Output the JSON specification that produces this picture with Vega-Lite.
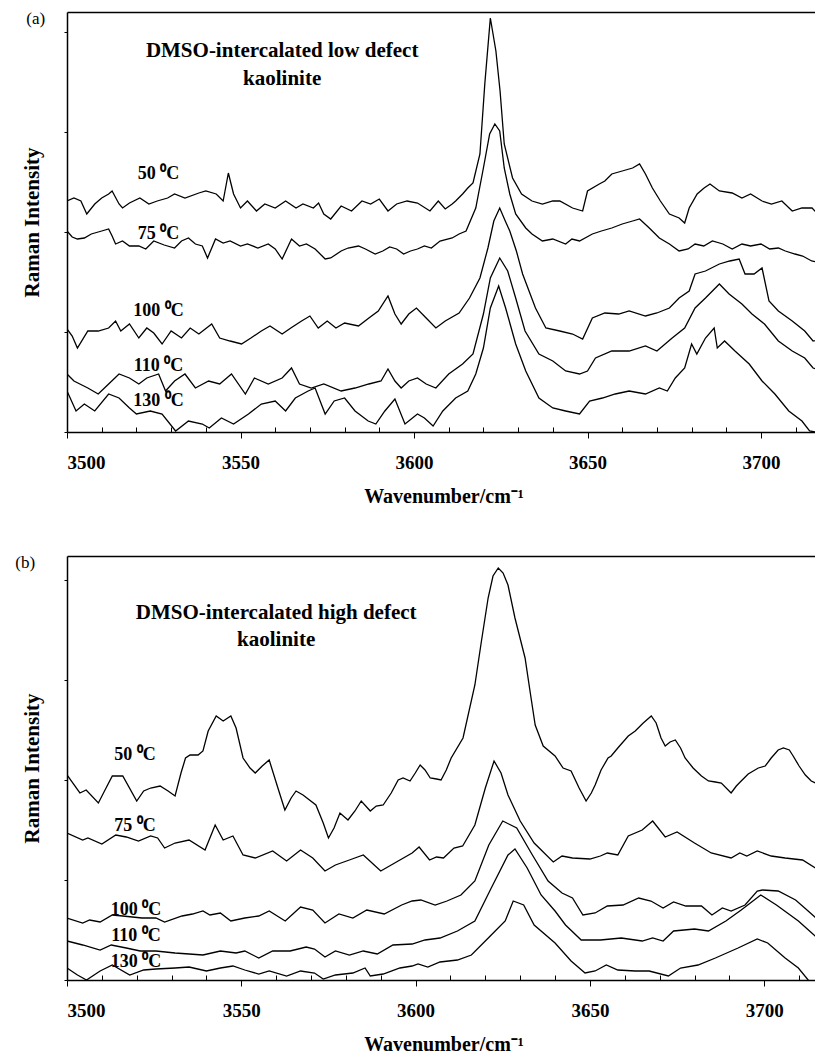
{
  "$schema": "https://vega.github.io/schema/vega-lite/v6.json",
  "padding": {"left": 15, "top": 10, "right": 0, "bottom": 0},
  "background": "white",
  "config": {
    "view": {"stroke": null},
    "font": "Liberation Serif",
    "axis": {"grid": false, "domainColor": "black", "domainWidth": 1.5, "tickColor": "black", "labelColor": "black", "titleColor": "black", "labelFont": "Liberation Serif", "titleFont": "Liberation Serif", "labelFontWeight": "bold", "titleFontWeight": "bold"},
    "text": {"font": "Liberation Serif", "color": "black"}
  },
  "spacing": 47,
  "datasets": {
    "a": [
      {"s":"50","wn":3500,"v":231},{"s":"50","wn":3502,"v":234},{"s":"50","wn":3504,"v":231},{"s":"50","wn":3505.7,"v":218},{"s":"50","wn":3508,"v":228},{"s":"50","wn":3510,"v":234},{"s":"50","wn":3512,"v":238},{"s":"50","wn":3513,"v":241},{"s":"50","wn":3515,"v":228},{"s":"50","wn":3516,"v":224},{"s":"50","wn":3518,"v":229},{"s":"50","wn":3521,"v":234},{"s":"50","wn":3523.6,"v":228},{"s":"50","wn":3526,"v":231},{"s":"50","wn":3529,"v":234},{"s":"50","wn":3531,"v":238},{"s":"50","wn":3534,"v":234},{"s":"50","wn":3538,"v":239},{"s":"50","wn":3540,"v":241},{"s":"50","wn":3543,"v":238},{"s":"50","wn":3545,"v":231},{"s":"50","wn":3546.5,"v":259},{"s":"50","wn":3548,"v":238},{"s":"50","wn":3550,"v":224},{"s":"50","wn":3552,"v":231},{"s":"50","wn":3554.6,"v":221},{"s":"50","wn":3557,"v":228},{"s":"50","wn":3560,"v":224},{"s":"50","wn":3563,"v":231},{"s":"50","wn":3566,"v":224},{"s":"50","wn":3568,"v":228},{"s":"50","wn":3571,"v":224},{"s":"50","wn":3572.5,"v":229},{"s":"50","wn":3574,"v":218},{"s":"50","wn":3576,"v":213},{"s":"50","wn":3579,"v":226},{"s":"50","wn":3582,"v":221},{"s":"50","wn":3585,"v":231},{"s":"50","wn":3587.5,"v":228},{"s":"50","wn":3590,"v":233},{"s":"50","wn":3592.5,"v":221},{"s":"50","wn":3595,"v":228},{"s":"50","wn":3598,"v":231},{"s":"50","wn":3601,"v":229},{"s":"50","wn":3604.6,"v":221},{"s":"50","wn":3607,"v":231},{"s":"50","wn":3609,"v":223},{"s":"50","wn":3611,"v":228},{"s":"50","wn":3612,"v":231},{"s":"50","wn":3614,"v":238},{"s":"50","wn":3615.5,"v":244},{"s":"50","wn":3617,"v":249},{"s":"50","wn":3619,"v":278},{"s":"50","wn":3620.4,"v":348},{"s":"50","wn":3622,"v":414},{"s":"50","wn":3623.6,"v":381},{"s":"50","wn":3624.8,"v":341},{"s":"50","wn":3626,"v":288},{"s":"50","wn":3628.4,"v":254},{"s":"50","wn":3631,"v":238},{"s":"50","wn":3634,"v":231},{"s":"50","wn":3637,"v":228},{"s":"50","wn":3640,"v":231},{"s":"50","wn":3642,"v":231},{"s":"50","wn":3645.7,"v":224},{"s":"50","wn":3648.6,"v":221},{"s":"50","wn":3650,"v":241},{"s":"50","wn":3653.4,"v":248},{"s":"50","wn":3655,"v":251},{"s":"50","wn":3657,"v":258},{"s":"50","wn":3660,"v":261},{"s":"50","wn":3663,"v":264},{"s":"50","wn":3665,"v":268},{"s":"50","wn":3666.7,"v":258},{"s":"50","wn":3668.7,"v":244},{"s":"50","wn":3671,"v":231},{"s":"50","wn":3673.6,"v":218},{"s":"50","wn":3676.4,"v":214},{"s":"50","wn":3678,"v":209},{"s":"50","wn":3679.3,"v":224},{"s":"50","wn":3681.6,"v":238},{"s":"50","wn":3683.6,"v":244},{"s":"50","wn":3685.3,"v":248},{"s":"50","wn":3688,"v":241},{"s":"50","wn":3691.7,"v":239},{"s":"50","wn":3694.5,"v":234},{"s":"50","wn":3697,"v":238},{"s":"50","wn":3700.3,"v":231},{"s":"50","wn":3703,"v":228},{"s":"50","wn":3706,"v":231},{"s":"50","wn":3709,"v":221},{"s":"50","wn":3711.8,"v":224},{"s":"50","wn":3714.7,"v":224},{"s":"50","wn":3717.5,"v":214},
      {"s":"75","wn":3500,"v":201},{"s":"75","wn":3501.5,"v":195},{"s":"75","wn":3503,"v":193},{"s":"75","wn":3505,"v":194},{"s":"75","wn":3507,"v":198},{"s":"75","wn":3510,"v":201},{"s":"75","wn":3512,"v":203},{"s":"75","wn":3513,"v":196},{"s":"75","wn":3514,"v":188},{"s":"75","wn":3516,"v":191},{"s":"75","wn":3518,"v":186},{"s":"75","wn":3520.7,"v":186},{"s":"75","wn":3522.7,"v":183},{"s":"75","wn":3525,"v":191},{"s":"75","wn":3528,"v":187},{"s":"75","wn":3531,"v":184},{"s":"75","wn":3533,"v":191},{"s":"75","wn":3535,"v":194},{"s":"75","wn":3537,"v":188},{"s":"75","wn":3539,"v":186},{"s":"75","wn":3540.5,"v":174},{"s":"75","wn":3542.8,"v":193},{"s":"75","wn":3545,"v":189},{"s":"75","wn":3547,"v":191},{"s":"75","wn":3550,"v":186},{"s":"75","wn":3552,"v":188},{"s":"75","wn":3555,"v":184},{"s":"75","wn":3558,"v":188},{"s":"75","wn":3560,"v":183},{"s":"75","wn":3562,"v":173},{"s":"75","wn":3564.7,"v":193},{"s":"75","wn":3567,"v":186},{"s":"75","wn":3569,"v":188},{"s":"75","wn":3571.5,"v":183},{"s":"75","wn":3574.4,"v":173},{"s":"75","wn":3576,"v":174},{"s":"75","wn":3579,"v":181},{"s":"75","wn":3581,"v":184},{"s":"75","wn":3584,"v":186},{"s":"75","wn":3586,"v":183},{"s":"75","wn":3588.8,"v":178},{"s":"75","wn":3591,"v":181},{"s":"75","wn":3593,"v":185},{"s":"75","wn":3595,"v":183},{"s":"75","wn":3597,"v":178},{"s":"75","wn":3599,"v":181},{"s":"75","wn":3601,"v":183},{"s":"75","wn":3603,"v":186},{"s":"75","wn":3605,"v":184},{"s":"75","wn":3607.5,"v":191},{"s":"75","wn":3611,"v":194},{"s":"75","wn":3613,"v":198},{"s":"75","wn":3615,"v":201},{"s":"75","wn":3617.8,"v":224},{"s":"75","wn":3620,"v":264},{"s":"75","wn":3621.8,"v":298},{"s":"75","wn":3623.3,"v":308},{"s":"75","wn":3624.7,"v":301},{"s":"75","wn":3626,"v":264},{"s":"75","wn":3627.6,"v":238},{"s":"75","wn":3629.3,"v":218},{"s":"75","wn":3632.2,"v":204},{"s":"75","wn":3634,"v":198},{"s":"75","wn":3637,"v":191},{"s":"75","wn":3640,"v":193},{"s":"75","wn":3643.7,"v":188},{"s":"75","wn":3645.5,"v":193},{"s":"75","wn":3647.7,"v":191},{"s":"75","wn":3651.4,"v":198},{"s":"75","wn":3654,"v":201},{"s":"75","wn":3657,"v":204},{"s":"75","wn":3660,"v":208},{"s":"75","wn":3663,"v":211},{"s":"75","wn":3665,"v":213},{"s":"75","wn":3667.8,"v":204},{"s":"75","wn":3670.7,"v":194},{"s":"75","wn":3673.6,"v":188},{"s":"75","wn":3676.4,"v":181},{"s":"75","wn":3679,"v":183},{"s":"75","wn":3681,"v":188},{"s":"75","wn":3683.5,"v":186},{"s":"75","wn":3686,"v":191},{"s":"75","wn":3689,"v":188},{"s":"75","wn":3691.7,"v":183},{"s":"75","wn":3694.5,"v":188},{"s":"75","wn":3697,"v":186},{"s":"75","wn":3700,"v":188},{"s":"75","wn":3702.5,"v":183},{"s":"75","wn":3705,"v":184},{"s":"75","wn":3707,"v":181},{"s":"75","wn":3709.8,"v":178},{"s":"75","wn":3712,"v":176},{"s":"75","wn":3714.6,"v":171},{"s":"75","wn":3717.5,"v":169},
      {"s":"100","wn":3500,"v":103},{"s":"100","wn":3501.5,"v":96},{"s":"100","wn":3503,"v":84},{"s":"100","wn":3506,"v":101},{"s":"100","wn":3509,"v":101},{"s":"100","wn":3512,"v":104},{"s":"100","wn":3514,"v":111},{"s":"100","wn":3515.5,"v":101},{"s":"100","wn":3518,"v":108},{"s":"100","wn":3520.7,"v":94},{"s":"100","wn":3523,"v":104},{"s":"100","wn":3525,"v":99},{"s":"100","wn":3527.4,"v":88},{"s":"100","wn":3530,"v":101},{"s":"100","wn":3533,"v":94},{"s":"100","wn":3535.5,"v":104},{"s":"100","wn":3538,"v":98},{"s":"100","wn":3541.7,"v":108},{"s":"100","wn":3544,"v":94},{"s":"100","wn":3547,"v":91},{"s":"100","wn":3550.3,"v":88},{"s":"100","wn":3553,"v":94},{"s":"100","wn":3556,"v":101},{"s":"100","wn":3558.5,"v":106},{"s":"100","wn":3562,"v":98},{"s":"100","wn":3564.5,"v":104},{"s":"100","wn":3567.6,"v":111},{"s":"100","wn":3570,"v":116},{"s":"100","wn":3572.4,"v":104},{"s":"100","wn":3575,"v":111},{"s":"100","wn":3577.5,"v":104},{"s":"100","wn":3580,"v":109},{"s":"100","wn":3584,"v":106},{"s":"100","wn":3587,"v":114},{"s":"100","wn":3589.7,"v":121},{"s":"100","wn":3592.5,"v":136},{"s":"100","wn":3594.5,"v":118},{"s":"100","wn":3596.3,"v":108},{"s":"100","wn":3598.5,"v":118},{"s":"100","wn":3600.7,"v":124},{"s":"100","wn":3603.5,"v":114},{"s":"100","wn":3606.3,"v":104},{"s":"100","wn":3609,"v":111},{"s":"100","wn":3613,"v":119},{"s":"100","wn":3616,"v":134},{"s":"100","wn":3619,"v":154},{"s":"100","wn":3621.3,"v":184},{"s":"100","wn":3623,"v":211},{"s":"100","wn":3624.7,"v":224},{"s":"100","wn":3626.3,"v":211},{"s":"100","wn":3627.6,"v":201},{"s":"100","wn":3629.5,"v":181},{"s":"100","wn":3631.3,"v":158},{"s":"100","wn":3635,"v":124},{"s":"100","wn":3638,"v":104},{"s":"100","wn":3642,"v":101},{"s":"100","wn":3645.7,"v":98},{"s":"100","wn":3648.6,"v":93},{"s":"100","wn":3651.4,"v":114},{"s":"100","wn":3655,"v":119},{"s":"100","wn":3659,"v":118},{"s":"100","wn":3662,"v":121},{"s":"100","wn":3666.7,"v":116},{"s":"100","wn":3670,"v":119},{"s":"100","wn":3673.6,"v":124},{"s":"100","wn":3676.4,"v":134},{"s":"100","wn":3679.3,"v":141},{"s":"100","wn":3681,"v":158},{"s":"100","wn":3684,"v":161},{"s":"100","wn":3688,"v":168},{"s":"100","wn":3691,"v":171},{"s":"100","wn":3693.7,"v":173},{"s":"100","wn":3695.4,"v":158},{"s":"100","wn":3698,"v":158},{"s":"100","wn":3700.3,"v":164},{"s":"100","wn":3702.3,"v":131},{"s":"100","wn":3705,"v":121},{"s":"100","wn":3709,"v":111},{"s":"100","wn":3712.6,"v":101},{"s":"100","wn":3715,"v":91},{"s":"100","wn":3717.5,"v":93},
      {"s":"110","wn":3500,"v":58},{"s":"110","wn":3502,"v":51},{"s":"110","wn":3506,"v":44},{"s":"110","wn":3509,"v":38},{"s":"110","wn":3512,"v":48},{"s":"110","wn":3515,"v":58},{"s":"110","wn":3518,"v":54},{"s":"110","wn":3520.7,"v":48},{"s":"110","wn":3523,"v":54},{"s":"110","wn":3526.4,"v":58},{"s":"110","wn":3528.4,"v":41},{"s":"110","wn":3531,"v":51},{"s":"110","wn":3534,"v":58},{"s":"110","wn":3537,"v":44},{"s":"110","wn":3540.8,"v":51},{"s":"110","wn":3544,"v":48},{"s":"110","wn":3547.4,"v":58},{"s":"110","wn":3551.4,"v":38},{"s":"110","wn":3554,"v":54},{"s":"110","wn":3558,"v":48},{"s":"110","wn":3562,"v":54},{"s":"110","wn":3564.7,"v":64},{"s":"110","wn":3567,"v":48},{"s":"110","wn":3570.4,"v":44},{"s":"110","wn":3574,"v":48},{"s":"110","wn":3579,"v":41},{"s":"110","wn":3583,"v":44},{"s":"110","wn":3587,"v":48},{"s":"110","wn":3590.5,"v":51},{"s":"110","wn":3592.5,"v":63},{"s":"110","wn":3594.5,"v":51},{"s":"110","wn":3596.3,"v":44},{"s":"110","wn":3598.5,"v":51},{"s":"110","wn":3601,"v":54},{"s":"110","wn":3603.5,"v":48},{"s":"110","wn":3606.3,"v":44},{"s":"110","wn":3610,"v":58},{"s":"110","wn":3614,"v":68},{"s":"110","wn":3617,"v":78},{"s":"110","wn":3620,"v":118},{"s":"110","wn":3622,"v":154},{"s":"110","wn":3624.7,"v":174},{"s":"110","wn":3627,"v":161},{"s":"110","wn":3629.3,"v":134},{"s":"110","wn":3632,"v":101},{"s":"110","wn":3636,"v":78},{"s":"110","wn":3640,"v":71},{"s":"110","wn":3643.7,"v":61},{"s":"110","wn":3647.7,"v":58},{"s":"110","wn":3650,"v":61},{"s":"110","wn":3652.3,"v":74},{"s":"110","wn":3657,"v":81},{"s":"110","wn":3662,"v":81},{"s":"110","wn":3666.7,"v":86},{"s":"110","wn":3670,"v":81},{"s":"110","wn":3674.4,"v":94},{"s":"110","wn":3678,"v":104},{"s":"110","wn":3681,"v":124},{"s":"110","wn":3684,"v":134},{"s":"110","wn":3688,"v":148},{"s":"110","wn":3690.8,"v":138},{"s":"110","wn":3694.5,"v":128},{"s":"110","wn":3697.4,"v":118},{"s":"110","wn":3701,"v":108},{"s":"110","wn":3705,"v":91},{"s":"110","wn":3709,"v":81},{"s":"110","wn":3712.6,"v":74},{"s":"110","wn":3715,"v":64},{"s":"110","wn":3717.5,"v":61},
      {"s":"130","wn":3500,"v":41},{"s":"130","wn":3502.6,"v":21},{"s":"130","wn":3505,"v":28},{"s":"130","wn":3508,"v":21},{"s":"130","wn":3512,"v":38},{"s":"130","wn":3515,"v":34},{"s":"130","wn":3518,"v":24},{"s":"130","wn":3520,"v":18},{"s":"130","wn":3524,"v":21},{"s":"130","wn":3527.4,"v":18},{"s":"130","wn":3531.3,"v":1},{"s":"130","wn":3535,"v":11},{"s":"130","wn":3539,"v":8},{"s":"130","wn":3541,"v":4},{"s":"130","wn":3544.5,"v":14},{"s":"130","wn":3548,"v":8},{"s":"130","wn":3552.3,"v":18},{"s":"130","wn":3556,"v":28},{"s":"130","wn":3560,"v":31},{"s":"130","wn":3563,"v":21},{"s":"130","wn":3565.8,"v":34},{"s":"130","wn":3569.5,"v":41},{"s":"130","wn":3571.5,"v":44},{"s":"130","wn":3574.4,"v":18},{"s":"130","wn":3577,"v":31},{"s":"130","wn":3580,"v":34},{"s":"130","wn":3583,"v":21},{"s":"130","wn":3586.8,"v":11},{"s":"130","wn":3589,"v":8},{"s":"130","wn":3591.6,"v":21},{"s":"130","wn":3594.5,"v":33},{"s":"130","wn":3597.4,"v":8},{"s":"130","wn":3601,"v":18},{"s":"130","wn":3603,"v":14},{"s":"130","wn":3605.5,"v":6},{"s":"130","wn":3608.3,"v":21},{"s":"130","wn":3612,"v":34},{"s":"130","wn":3615.5,"v":41},{"s":"130","wn":3617.8,"v":58},{"s":"130","wn":3620,"v":84},{"s":"130","wn":3622,"v":124},{"s":"130","wn":3624.4,"v":146},{"s":"130","wn":3626.4,"v":124},{"s":"130","wn":3629.3,"v":88},{"s":"130","wn":3632.2,"v":61},{"s":"130","wn":3636,"v":34},{"s":"130","wn":3640,"v":24},{"s":"130","wn":3643.7,"v":21},{"s":"130","wn":3647.7,"v":18},{"s":"130","wn":3650.6,"v":31},{"s":"130","wn":3654.3,"v":34},{"s":"130","wn":3658,"v":38},{"s":"130","wn":3662,"v":41},{"s":"130","wn":3666.7,"v":38},{"s":"130","wn":3670.7,"v":44},{"s":"130","wn":3673,"v":41},{"s":"130","wn":3675.3,"v":54},{"s":"130","wn":3678,"v":64},{"s":"130","wn":3680,"v":88},{"s":"130","wn":3681.5,"v":78},{"s":"130","wn":3684,"v":94},{"s":"130","wn":3686.5,"v":104},{"s":"130","wn":3687.4,"v":84},{"s":"130","wn":3689.5,"v":91},{"s":"130","wn":3692.5,"v":81},{"s":"130","wn":3696.6,"v":68},{"s":"130","wn":3700.3,"v":51},{"s":"130","wn":3704,"v":38},{"s":"130","wn":3708,"v":21},{"s":"130","wn":3711.8,"v":11},{"s":"130","wn":3714,"v":1},{"s":"130","wn":3717.5,"v":-1}
    ],
    "b": [
      {"s":"50","wn":3500,"v":205},{"s":"50","wn":3503.7,"v":187},{"s":"50","wn":3505.5,"v":190},{"s":"50","wn":3509,"v":177},{"s":"50","wn":3511.2,"v":192},{"s":"50","wn":3513,"v":204},{"s":"50","wn":3516,"v":204},{"s":"50","wn":3520,"v":179},{"s":"50","wn":3522,"v":189},{"s":"50","wn":3524,"v":192},{"s":"50","wn":3526.7,"v":194},{"s":"50","wn":3529,"v":189},{"s":"50","wn":3531,"v":184},{"s":"50","wn":3532.7,"v":207},{"s":"50","wn":3534,"v":222},{"s":"50","wn":3535.3,"v":225},{"s":"50","wn":3537.6,"v":225},{"s":"50","wn":3539,"v":229},{"s":"50","wn":3540.5,"v":249},{"s":"50","wn":3542.8,"v":264},{"s":"50","wn":3544.8,"v":259},{"s":"50","wn":3547,"v":264},{"s":"50","wn":3548.5,"v":252},{"s":"50","wn":3550.5,"v":222},{"s":"50","wn":3552.5,"v":212},{"s":"50","wn":3554,"v":207},{"s":"50","wn":3556,"v":214},{"s":"50","wn":3558,"v":220},{"s":"50","wn":3560.5,"v":192},{"s":"50","wn":3562.5,"v":170},{"s":"50","wn":3564.3,"v":182},{"s":"50","wn":3565.7,"v":189},{"s":"50","wn":3567.7,"v":185},{"s":"50","wn":3571.4,"v":175},{"s":"50","wn":3573.5,"v":157},{"s":"50","wn":3575,"v":142},{"s":"50","wn":3576.6,"v":152},{"s":"50","wn":3578.3,"v":167},{"s":"50","wn":3580.6,"v":160},{"s":"50","wn":3582.6,"v":169},{"s":"50","wn":3584.4,"v":179},{"s":"50","wn":3587,"v":169},{"s":"50","wn":3588.7,"v":174},{"s":"50","wn":3590.7,"v":175},{"s":"50","wn":3593,"v":187},{"s":"50","wn":3595,"v":200},{"s":"50","wn":3596.4,"v":202},{"s":"50","wn":3598.4,"v":199},{"s":"50","wn":3599.9,"v":207},{"s":"50","wn":3601.3,"v":215},{"s":"50","wn":3602.7,"v":210},{"s":"50","wn":3604.2,"v":202},{"s":"50","wn":3606,"v":201},{"s":"50","wn":3607.3,"v":200},{"s":"50","wn":3608.8,"v":210},{"s":"50","wn":3610.2,"v":222},{"s":"50","wn":3613.6,"v":242},{"s":"50","wn":3617,"v":295},{"s":"50","wn":3618.8,"v":337},{"s":"50","wn":3620.8,"v":382},{"s":"50","wn":3622.2,"v":404},{"s":"50","wn":3623.7,"v":412},{"s":"50","wn":3625.1,"v":407},{"s":"50","wn":3626.5,"v":395},{"s":"50","wn":3628.5,"v":362},{"s":"50","wn":3631.4,"v":322},{"s":"50","wn":3632.9,"v":287},{"s":"50","wn":3634.3,"v":255},{"s":"50","wn":3636.6,"v":234},{"s":"50","wn":3640,"v":224},{"s":"50","wn":3642.3,"v":212},{"s":"50","wn":3644.6,"v":209},{"s":"50","wn":3646.9,"v":192},{"s":"50","wn":3648.9,"v":179},{"s":"50","wn":3650.4,"v":187},{"s":"50","wn":3651.5,"v":195},{"s":"50","wn":3653.2,"v":210},{"s":"50","wn":3655.2,"v":222},{"s":"50","wn":3656.1,"v":224},{"s":"50","wn":3658,"v":232},{"s":"50","wn":3661,"v":244},{"s":"50","wn":3663,"v":249},{"s":"50","wn":3665.3,"v":257},{"s":"50","wn":3667.6,"v":264},{"s":"50","wn":3669,"v":257},{"s":"50","wn":3670.4,"v":242},{"s":"50","wn":3671.6,"v":234},{"s":"50","wn":3673,"v":238},{"s":"50","wn":3674.5,"v":240},{"s":"50","wn":3676,"v":232},{"s":"50","wn":3677.3,"v":222},{"s":"50","wn":3679.6,"v":212},{"s":"50","wn":3682,"v":204},{"s":"50","wn":3684,"v":199},{"s":"50","wn":3686,"v":198},{"s":"50","wn":3687.7,"v":197},{"s":"50","wn":3690.5,"v":187},{"s":"50","wn":3692,"v":194},{"s":"50","wn":3693.4,"v":199},{"s":"50","wn":3695.4,"v":206},{"s":"50","wn":3698.3,"v":212},{"s":"50","wn":3700.3,"v":214},{"s":"50","wn":3702,"v":222},{"s":"50","wn":3704,"v":230},{"s":"50","wn":3705.5,"v":232},{"s":"50","wn":3707.2,"v":230},{"s":"50","wn":3708.3,"v":224},{"s":"50","wn":3710,"v":214},{"s":"50","wn":3711.8,"v":205},{"s":"50","wn":3713.5,"v":199},{"s":"50","wn":3716.5,"v":194},
      {"s":"75","wn":3500,"v":147},{"s":"75","wn":3504.5,"v":140},{"s":"75","wn":3506,"v":142},{"s":"75","wn":3510,"v":136},{"s":"75","wn":3514,"v":145},{"s":"75","wn":3517,"v":143},{"s":"75","wn":3520.5,"v":139},{"s":"75","wn":3524,"v":144},{"s":"75","wn":3526,"v":142},{"s":"75","wn":3528,"v":132},{"s":"75","wn":3531,"v":137},{"s":"75","wn":3535,"v":140},{"s":"75","wn":3539.6,"v":130},{"s":"75","wn":3542.5,"v":155},{"s":"75","wn":3544.8,"v":140},{"s":"75","wn":3547.6,"v":144},{"s":"75","wn":3550.5,"v":125},{"s":"75","wn":3554,"v":122},{"s":"75","wn":3559,"v":129},{"s":"75","wn":3563,"v":119},{"s":"75","wn":3567,"v":130},{"s":"75","wn":3570.5,"v":122},{"s":"75","wn":3574,"v":109},{"s":"75","wn":3577,"v":115},{"s":"75","wn":3581,"v":120},{"s":"75","wn":3585,"v":125},{"s":"75","wn":3590,"v":109},{"s":"75","wn":3595,"v":119},{"s":"75","wn":3599,"v":127},{"s":"75","wn":3601,"v":133},{"s":"75","wn":3604,"v":120},{"s":"75","wn":3606,"v":123},{"s":"75","wn":3608,"v":122},{"s":"75","wn":3611,"v":132},{"s":"75","wn":3613.5,"v":134},{"s":"75","wn":3617,"v":155},{"s":"75","wn":3620,"v":192},{"s":"75","wn":3622.5,"v":219},{"s":"75","wn":3624.5,"v":207},{"s":"75","wn":3626.5,"v":185},{"s":"75","wn":3630,"v":159},{"s":"75","wn":3634,"v":137},{"s":"75","wn":3639.5,"v":118},{"s":"75","wn":3642,"v":124},{"s":"75","wn":3645,"v":122},{"s":"75","wn":3650,"v":121},{"s":"75","wn":3653,"v":124},{"s":"75","wn":3655,"v":127},{"s":"75","wn":3658,"v":125},{"s":"75","wn":3661,"v":144},{"s":"75","wn":3665,"v":150},{"s":"75","wn":3668,"v":159},{"s":"75","wn":3671.6,"v":143},{"s":"75","wn":3675,"v":148},{"s":"75","wn":3680,"v":137},{"s":"75","wn":3684.8,"v":127},{"s":"75","wn":3690.5,"v":122},{"s":"75","wn":3693,"v":127},{"s":"75","wn":3695,"v":124},{"s":"75","wn":3698,"v":129},{"s":"75","wn":3702,"v":124},{"s":"75","wn":3706,"v":122},{"s":"75","wn":3711,"v":120},{"s":"75","wn":3716.5,"v":108},
      {"s":"100","wn":3500,"v":62},{"s":"100","wn":3504.5,"v":57},{"s":"100","wn":3506.5,"v":60},{"s":"100","wn":3509.5,"v":58},{"s":"100","wn":3513,"v":65},{"s":"100","wn":3516,"v":64},{"s":"100","wn":3521.5,"v":62},{"s":"100","wn":3525.5,"v":62},{"s":"100","wn":3528,"v":58},{"s":"100","wn":3533,"v":64},{"s":"100","wn":3536,"v":66},{"s":"100","wn":3539,"v":69},{"s":"100","wn":3541,"v":65},{"s":"100","wn":3544,"v":67},{"s":"100","wn":3547,"v":59},{"s":"100","wn":3551,"v":62},{"s":"100","wn":3555,"v":64},{"s":"100","wn":3558,"v":69},{"s":"100","wn":3562.6,"v":59},{"s":"100","wn":3567,"v":73},{"s":"100","wn":3570.5,"v":70},{"s":"100","wn":3574,"v":57},{"s":"100","wn":3578,"v":66},{"s":"100","wn":3582,"v":62},{"s":"100","wn":3586,"v":70},{"s":"100","wn":3591,"v":66},{"s":"100","wn":3596,"v":75},{"s":"100","wn":3599,"v":79},{"s":"100","wn":3601.5,"v":80},{"s":"100","wn":3605.6,"v":75},{"s":"100","wn":3609,"v":79},{"s":"100","wn":3613,"v":85},{"s":"100","wn":3617,"v":99},{"s":"100","wn":3621,"v":135},{"s":"100","wn":3625,"v":159},{"s":"100","wn":3629,"v":152},{"s":"100","wn":3633.5,"v":125},{"s":"100","wn":3638,"v":99},{"s":"100","wn":3642,"v":87},{"s":"100","wn":3645,"v":82},{"s":"100","wn":3648,"v":65},{"s":"100","wn":3651.5,"v":67},{"s":"100","wn":3655,"v":74},{"s":"100","wn":3659.5,"v":75},{"s":"100","wn":3664,"v":82},{"s":"100","wn":3667.5,"v":79},{"s":"100","wn":3671,"v":72},{"s":"100","wn":3674,"v":78},{"s":"100","wn":3677.5,"v":74},{"s":"100","wn":3682,"v":74},{"s":"100","wn":3685,"v":65},{"s":"100","wn":3688,"v":72},{"s":"100","wn":3690.5,"v":69},{"s":"100","wn":3694.5,"v":75},{"s":"100","wn":3698,"v":89},{"s":"100","wn":3699.5,"v":90},{"s":"100","wn":3704,"v":89},{"s":"100","wn":3709,"v":80},{"s":"100","wn":3712.6,"v":69},{"s":"100","wn":3716.5,"v":57},
      {"s":"110","wn":3500,"v":39},{"s":"110","wn":3504.5,"v":35},{"s":"110","wn":3509.5,"v":30},{"s":"110","wn":3512.7,"v":35},{"s":"110","wn":3517,"v":32},{"s":"110","wn":3521,"v":29},{"s":"110","wn":3525.5,"v":29},{"s":"110","wn":3531,"v":27},{"s":"110","wn":3539,"v":25},{"s":"110","wn":3544,"v":29},{"s":"110","wn":3548.5,"v":27},{"s":"110","wn":3551,"v":29},{"s":"110","wn":3555,"v":22},{"s":"110","wn":3559,"v":29},{"s":"110","wn":3564,"v":29},{"s":"110","wn":3568.6,"v":33},{"s":"110","wn":3571,"v":31},{"s":"110","wn":3574,"v":23},{"s":"110","wn":3577,"v":29},{"s":"110","wn":3581,"v":25},{"s":"110","wn":3585,"v":29},{"s":"110","wn":3589,"v":26},{"s":"110","wn":3593.5,"v":35},{"s":"110","wn":3599,"v":36},{"s":"110","wn":3602.7,"v":40},{"s":"110","wn":3607,"v":42},{"s":"110","wn":3612,"v":49},{"s":"110","wn":3617,"v":59},{"s":"110","wn":3621.7,"v":92},{"s":"110","wn":3626.5,"v":125},{"s":"110","wn":3628.5,"v":131},{"s":"110","wn":3632,"v":112},{"s":"110","wn":3636,"v":85},{"s":"110","wn":3640,"v":69},{"s":"110","wn":3643,"v":55},{"s":"110","wn":3647.5,"v":40},{"s":"110","wn":3653,"v":40},{"s":"110","wn":3659,"v":42},{"s":"110","wn":3665,"v":39},{"s":"110","wn":3668,"v":42},{"s":"110","wn":3671,"v":39},{"s":"110","wn":3674,"v":49},{"s":"110","wn":3680,"v":51},{"s":"110","wn":3684,"v":49},{"s":"110","wn":3689,"v":59},{"s":"110","wn":3693.4,"v":70},{"s":"110","wn":3699,"v":85},{"s":"110","wn":3703.5,"v":75},{"s":"110","wn":3709.8,"v":59},{"s":"110","wn":3716.5,"v":38},
      {"s":"130","wn":3500,"v":12},{"s":"130","wn":3503,"v":5},{"s":"130","wn":3505.6,"v":0},{"s":"130","wn":3509.5,"v":9},{"s":"130","wn":3513,"v":15},{"s":"130","wn":3518,"v":5},{"s":"130","wn":3522,"v":10},{"s":"130","wn":3525.5,"v":11},{"s":"130","wn":3531,"v":12},{"s":"130","wn":3535,"v":13},{"s":"130","wn":3540,"v":9},{"s":"130","wn":3544,"v":12},{"s":"130","wn":3547.6,"v":14},{"s":"130","wn":3551,"v":10},{"s":"130","wn":3555,"v":6},{"s":"130","wn":3558,"v":9},{"s":"130","wn":3563,"v":4},{"s":"130","wn":3567,"v":9},{"s":"130","wn":3571,"v":7},{"s":"130","wn":3573.5,"v":1},{"s":"130","wn":3577,"v":5},{"s":"130","wn":3582,"v":7},{"s":"130","wn":3585.5,"v":12},{"s":"130","wn":3587,"v":4},{"s":"130","wn":3590.7,"v":6},{"s":"130","wn":3595.5,"v":12},{"s":"130","wn":3599,"v":14},{"s":"130","wn":3600.7,"v":16},{"s":"130","wn":3603.5,"v":13},{"s":"130","wn":3607,"v":18},{"s":"130","wn":3612,"v":20},{"s":"130","wn":3616,"v":25},{"s":"130","wn":3621.7,"v":45},{"s":"130","wn":3625.7,"v":59},{"s":"130","wn":3628,"v":79},{"s":"130","wn":3631,"v":75},{"s":"130","wn":3634,"v":55},{"s":"130","wn":3640,"v":37},{"s":"130","wn":3644.6,"v":19},{"s":"130","wn":3648.6,"v":7},{"s":"130","wn":3651.5,"v":9},{"s":"130","wn":3654.7,"v":15},{"s":"130","wn":3658,"v":10},{"s":"130","wn":3663,"v":9},{"s":"130","wn":3667,"v":9},{"s":"130","wn":3672.5,"v":4},{"s":"130","wn":3676,"v":12},{"s":"130","wn":3681,"v":15},{"s":"130","wn":3686,"v":22},{"s":"130","wn":3692.5,"v":32},{"s":"130","wn":3698,"v":41},{"s":"130","wn":3701,"v":37},{"s":"130","wn":3706,"v":22},{"s":"130","wn":3709.8,"v":12},{"s":"130","wn":3712.6,"v":0},{"s":"130","wn":3716.5,"v":-10}
    ],
    "la": [
      {"kind":"title","label":"DMSO-intercalated low defect","wn":3562,"v":381},
      {"kind":"title","label":"kaolinite","wn":3562,"v":353},
      {"kind":"temp","label":"50 ⁰C","wn":3526.4,"v":258},
      {"kind":"temp","label":"75 ⁰C","wn":3526.4,"v":198},
      {"kind":"temp","label":"100 ⁰C","wn":3526.4,"v":121},
      {"kind":"temp","label":"110 ⁰C","wn":3526.4,"v":66},
      {"kind":"temp","label":"130 ⁰C","wn":3526.4,"v":31},
      {"kind":"tag","label":"(a)","wn":3491,"v":413}
    ],
    "lb": [
      {"kind":"title","label":"DMSO-intercalated high defect","wn":3560,"v":367},
      {"kind":"title","label":"kaolinite","wn":3560,"v":340},
      {"kind":"temp","label":"50 ⁰C","wn":3519.5,"v":225},
      {"kind":"temp","label":"75 ⁰C","wn":3519.5,"v":154},
      {"kind":"temp","label":"100 ⁰C","wn":3519.8,"v":70},
      {"kind":"temp","label":"110 ⁰C","wn":3519.8,"v":44},
      {"kind":"temp","label":"130 ⁰C","wn":3519.8,"v":18},
      {"kind":"tag","label":"(b)","wn":3488,"v":417}
    ]
  },
  "vconcat": [
    {
      "width": 753,
      "height": 420,
      "resolve": {"axis": {"x": "independent", "y": "independent"}},
      "layer": [
        {
          "data": {"name": "a"},
          "mark": {"type": "line", "color": "black", "strokeWidth": 1.3, "clip": true},
          "encoding": {
            "x": {"field": "wn", "type": "quantitative", "scale": {"domain": [3500, 3717], "nice": false, "zero": false},
                  "axis": {"orient": "bottom", "values": [3500, 3550, 3600, 3650, 3700], "format": "d", "tickSize": 6, "labelFontSize": 19, "labelPadding": 15, "title": "Wavenumber/cm⁻¹", "titleFontSize": 20, "titlePadding": 14}},
            "y": {"field": "v", "type": "quantitative", "scale": {"domain": [0, 420], "nice": false},
                  "axis": {"orient": "left", "title": "Raman Intensity", "labels": false, "tickSize": 3, "values": [0, 100, 200, 300, 400], "titleFontSize": 21, "titlePadding": 21}},
            "detail": {"field": "s"},
            "order": {"field": "wn", "type": "quantitative"}
          }
        },
        {
          "data": {"name": "la"},
          "transform": [{"filter": "datum.kind == 'title'"}],
          "mark": {"type": "text", "fontSize": 21, "fontWeight": "bold", "align": "center", "baseline": "middle"},
          "encoding": {
            "x": {"field": "wn", "type": "quantitative", "scale": {"domain": [3500, 3717], "nice": false, "zero": false},
                  "axis": {"orient": "top", "ticks": false, "labels": false, "title": null, "domain": true}},
            "y": {"field": "v", "type": "quantitative", "scale": {"domain": [0, 420], "nice": false}, "axis": null},
            "text": {"field": "label"}
          }
        },
        {
          "data": {"name": "la"},
          "transform": [{"filter": "datum.kind == 'temp'"}],
          "mark": {"type": "text", "fontSize": 18, "fontWeight": "bold", "align": "center", "baseline": "middle"},
          "encoding": {
            "x": {"field": "wn", "type": "quantitative", "scale": {"domain": [3500, 3717], "nice": false, "zero": false},
                  "axis": {"orient": "bottom", "values": [3510, 3520, 3530, 3540, 3560, 3570, 3580, 3590, 3610, 3620, 3630, 3640, 3660, 3670, 3680, 3690, 3710], "tickSize": -5, "labels": false, "domain": false, "title": null}},
            "y": {"field": "v", "type": "quantitative", "scale": {"domain": [0, 420], "nice": false}, "axis": null},
            "text": {"field": "label"}
          }
        },
        {
          "data": {"name": "la"},
          "transform": [{"filter": "datum.kind == 'tag'"}],
          "mark": {"type": "text", "fontSize": 17, "fontWeight": "normal", "align": "center", "baseline": "middle"},
          "encoding": {
            "x": {"field": "wn", "type": "quantitative", "scale": {"domain": [3500, 3717], "nice": false, "zero": false}, "axis": null},
            "y": {"field": "v", "type": "quantitative", "scale": {"domain": [0, 420], "nice": false}, "axis": null},
            "text": {"field": "label"}
          }
        }
      ]
    },
    {
      "width": 753,
      "height": 424,
      "resolve": {"axis": {"x": "independent", "y": "independent"}},
      "layer": [
        {
          "data": {"name": "b"},
          "mark": {"type": "line", "color": "black", "strokeWidth": 1.3, "clip": true},
          "encoding": {
            "x": {"field": "wn", "type": "quantitative", "scale": {"domain": [3500, 3716], "nice": false, "zero": false},
                  "axis": {"orient": "bottom", "values": [3500, 3550, 3600, 3650, 3700], "format": "d", "tickSize": 6, "labelFontSize": 19, "labelPadding": 15, "title": "Wavenumber/cm⁻¹", "titleFontSize": 20, "titlePadding": 14}},
            "y": {"field": "v", "type": "quantitative", "scale": {"domain": [0, 424], "nice": false},
                  "axis": {"orient": "left", "title": "Raman Intensity", "labels": false, "tickSize": 3, "values": [0, 100, 200, 300, 400], "titleFontSize": 21, "titlePadding": 21}},
            "detail": {"field": "s"},
            "order": {"field": "wn", "type": "quantitative"}
          }
        },
        {
          "data": {"name": "lb"},
          "transform": [{"filter": "datum.kind == 'title'"}],
          "mark": {"type": "text", "fontSize": 21, "fontWeight": "bold", "align": "center", "baseline": "middle"},
          "encoding": {
            "x": {"field": "wn", "type": "quantitative", "scale": {"domain": [3500, 3716], "nice": false, "zero": false},
                  "axis": {"orient": "top", "ticks": false, "labels": false, "title": null, "domain": true}},
            "y": {"field": "v", "type": "quantitative", "scale": {"domain": [0, 424], "nice": false}, "axis": null},
            "text": {"field": "label"}
          }
        },
        {
          "data": {"name": "lb"},
          "transform": [{"filter": "datum.kind == 'temp'"}],
          "mark": {"type": "text", "fontSize": 18, "fontWeight": "bold", "align": "center", "baseline": "middle"},
          "encoding": {
            "x": {"field": "wn", "type": "quantitative", "scale": {"domain": [3500, 3716], "nice": false, "zero": false},
                  "axis": {"orient": "bottom", "values": [3510, 3520, 3530, 3540, 3560, 3570, 3580, 3590, 3610, 3620, 3630, 3640, 3660, 3670, 3680, 3690, 3710], "tickSize": -5, "labels": false, "domain": false, "title": null}},
            "y": {"field": "v", "type": "quantitative", "scale": {"domain": [0, 424], "nice": false}, "axis": null},
            "text": {"field": "label"}
          }
        },
        {
          "data": {"name": "lb"},
          "transform": [{"filter": "datum.kind == 'tag'"}],
          "mark": {"type": "text", "fontSize": 17, "fontWeight": "normal", "align": "center", "baseline": "middle"},
          "encoding": {
            "x": {"field": "wn", "type": "quantitative", "scale": {"domain": [3500, 3716], "nice": false, "zero": false}, "axis": null},
            "y": {"field": "v", "type": "quantitative", "scale": {"domain": [0, 424], "nice": false}, "axis": null},
            "text": {"field": "label"}
          }
        }
      ]
    }
  ]
}
